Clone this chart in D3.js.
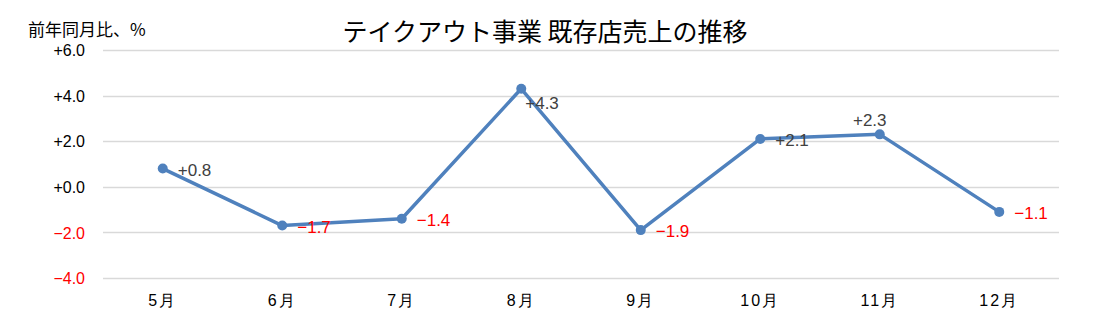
<!DOCTYPE html>
<html><head><meta charset="utf-8">
<script src="https://cdn.jsdelivr.net/npm/d3@7"></script>
<style>body{margin:0;background:#fff;}svg{display:block;font-family:"Noto Sans CJK JP","Noto Sans",sans-serif;}</style>
</head><body>
<svg id="c" width="1093" height="329"></svg>
<script>
const categories = ["5月","6月","7月","8月","9月","10月","11月","12月"];
const values = [0.8,-1.7,-1.4,4.3,-1.9,2.1,2.3,-1.1];
const yTicks = [-4,-2,0,2,4,6];
const labelPos = ["right","right","right","below-right","right","right","above","right"];
const title = "テイクアウト事業 既存店売上の推移";
const yTitle = "前年同月比、%";

const svg = d3.select("#c");
const W = 1093, H = 329;
const m = {left:103, right:34, top:50, bottom:51};
const x = d3.scaleBand().domain(categories).range([m.left, W - m.right]);
const y = d3.scaleLinear().domain([-4,6]).range([H - m.bottom, m.top]);
const fmt = v => v < 0 ? "\u2212" + Math.abs(v).toFixed(1) : "+" + v.toFixed(1);

svg.append("rect").attr("width",W).attr("height",H).attr("fill","#fff");

// gridlines
svg.append("g").selectAll("line").data(yTicks).join("line")
  .attr("x1", m.left).attr("x2", W - m.right)
  .attr("y1", d => Math.round(y(d)) + 0.5).attr("y2", d => Math.round(y(d)) + 0.5)
  .attr("stroke", "#d9d9d9").attr("stroke-width", 1.3);

// y axis labels
const yAxis = d3.axisLeft(y).tickValues(yTicks).tickFormat(fmt).tickSize(0).tickPadding(0);
const yg = svg.append("g").attr("transform", `translate(${m.left - 18},0)`).call(yAxis);
yg.select(".domain").remove();
yg.selectAll("text").attr("font-size", 16).attr("font-family","'Liberation Sans',Arial,sans-serif")
  .attr("fill", d => d < 0 ? "#ff0000" : "#000").attr("dy","0.35em");

// x axis labels
const xAxis = d3.axisBottom(x).tickSize(0).tickPadding(0);
const xg = svg.append("g").attr("transform", `translate(0,${H - m.bottom + 22})`).call(xAxis);
xg.select(".domain").remove();
xg.selectAll("text").attr("font-size", 16).attr("letter-spacing", 2).attr("fill","#000").attr("dy","0.35em");

// line
const cx = d => x(d) + x.bandwidth()/2;
const data = categories.map((c,i) => ({c, v: values[i], pos: labelPos[i]}));
svg.append("path").datum(data)
  .attr("fill","none").attr("stroke","#4f81bd").attr("stroke-width",3.5).attr("stroke-linejoin","round")
  .attr("d", d3.line().x(d => cx(d.c)).y(d => y(d.v)));
svg.append("g").selectAll("circle").data(data).join("circle")
  .attr("cx", d => cx(d.c)).attr("cy", d => y(d.v)).attr("r", 5).attr("fill","#4f81bd");

// data labels
svg.append("g").selectAll("text").data(data).join("text")
  .attr("x", d => d.pos === "above" ? cx(d.c) - 10 : d.pos === "below-right" ? cx(d.c) + 4 : cx(d.c) + 15)
  .attr("y", d => d.pos === "above" ? y(d.v) - 14 : d.pos === "below-right" ? y(d.v) + 14 : y(d.v) + 1)
  .attr("dy","0.35em")
  .attr("text-anchor", d => d.pos === "above" ? "middle" : "start")
  .attr("font-size", 17).attr("font-family","'Liberation Sans',Arial,sans-serif")
  .attr("fill", d => d.v < 0 ? "#ff0000" : "#404040")
  .text(d => fmt(d.v));

// titles
svg.append("text").attr("x", 545).attr("y", 41).attr("text-anchor","middle")
  .attr("font-size", 25).attr("fill","#000").text(title);
svg.append("text").attr("x", 28).attr("y", 36).attr("font-size", 17).attr("fill","#000").text(yTitle);
</script>
</body></html>
